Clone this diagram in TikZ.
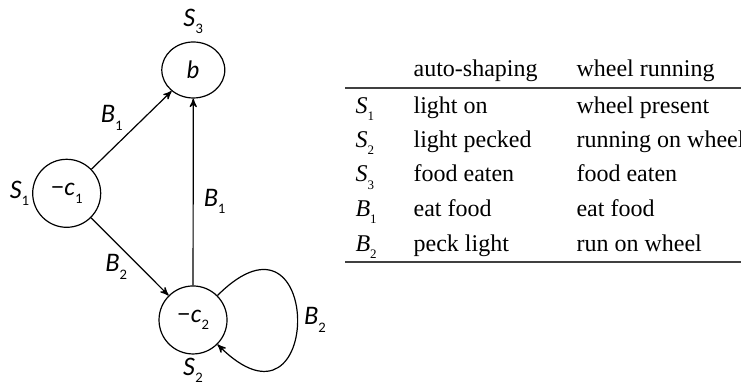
\documentclass[tikz,border=0pt]{standalone}
\usepackage{fontspec}
\setmainfont{Liberation Serif}
\setsansfont{Lato}
\usepackage{tikz}
\usetikzlibrary{positioning}
\usetikzlibrary{shapes}
\usetikzlibrary{arrows}

\newcommand{\dv}[2]{\textit{#1}\raisebox{-3.6pt}{\fontsize{6.5}{7}\selectfont\upshape #2}}

\tikzset{
	state/.style={circle, draw, minimum size=1.195cm, inner sep=0pt, font=\sffamily\fontsize{12}{14}\selectfont},
	goal/.style={ellipse, draw, minimum width=1.107cm, minimum height=0.984cm, inner sep=0pt, font=\sffamily\fontsize{12}{14}\selectfont},
	lbl/.style={inner sep=1pt, font=\sffamily\fontsize{12}{14}\selectfont},
	cell/.style={anchor=base west, inner sep=0pt, font=\fontsize{12}{14}\selectfont},
	rule/.style={line width=0.9pt, black!75},
}

\begin{document}
\begin{tikzpicture}[>=stealth', line width=0.6pt]
			\useasboundingbox (0,0) rectangle (13.022,-6.766);
			
			% states
			\node[state] (S1) at (1.172,-3.397) {−\dv{c}{1}};
			\node[goal] (S3) at (3.397,-1.230) {\textit{b}};
			\node[state] (S2) at (3.392,-5.623) {−\dv{c}{2}};
			
			\node[lbl, above=2.5pt of S3] (s3) {\dv{S}{3}};
			\node[lbl, left=0pt of S1] (s1) {\dv{S}{1}};
			\node[lbl, below=0.5pt of S2] (s2) {\dv{S}{2}};
			
			% transitions
			\draw[->] (S1) -- (S3) node[midway, above left=-1.25pt and 3pt, lbl] (b1a) {\dv{B}{1}};
			\draw[->] (S2) -- (S3) node[pos=0.45, right=4pt, lbl] (b1b) {\dv{B}{1}};
			\draw[->] (S1) -- (S2) node[midway, below left=-2.3pt and 0pt, lbl] (b2a) {\dv{B}{2}};
			\draw[->] (S2) to[out=45, in=-45, looseness=7.9] node[midway, right=2pt, lbl] (b2b) {\dv{B}{2}} (S2);
			
			% table
			\coordinate (tl) at (6.063,-1.552);
			\coordinate (tr) at (13.2,-1.552);
			\coordinate (bl) at (6.063,-4.599);
			\coordinate (br) at (13.2,-4.599);
			
			\node[cell] (h1) at (7.258,-1.336) {auto-shaping};
			\node[cell] (h2) at (10.122,-1.336) {wheel running};
			
			\node[cell] (r1) at (6.238,-1.986) {\dv{S}{1}};
			\node[cell] (r1a) at (7.258,-1.986) {light on};
			\node[cell] (r1b) at (10.122,-1.986) {wheel present};
			
			\node[cell] (r2) at (6.238,-2.592) {\dv{S}{2}};
			\node[cell] (r2a) at (7.258,-2.592) {light pecked};
			\node[cell] (r2b) at (10.122,-2.592) {running on wheel};
			
			\node[cell] (r3) at (6.238,-3.198) {\dv{S}{3}};
			\node[cell] (r3a) at (7.258,-3.198) {food eaten};
			\node[cell] (r3b) at (10.122,-3.198) {food eaten};
			
			\node[cell] (r4) at (6.238,-3.805) {\dv{B}{1}};
			\node[cell] (r4a) at (7.258,-3.805) {eat food};
			\node[cell] (r4b) at (10.122,-3.805) {eat food};
			
			\node[cell] (r5) at (6.238,-4.411) {\dv{B}{2}};
			\node[cell] (r5a) at (7.258,-4.411) {peck light};
			\node[cell] (r5b) at (10.122,-4.411) {run on wheel};
			
			\draw[rule] (tl) -- (tr);
			\draw[rule] (bl) -- (br);
			
		\end{tikzpicture}
\end{document}
